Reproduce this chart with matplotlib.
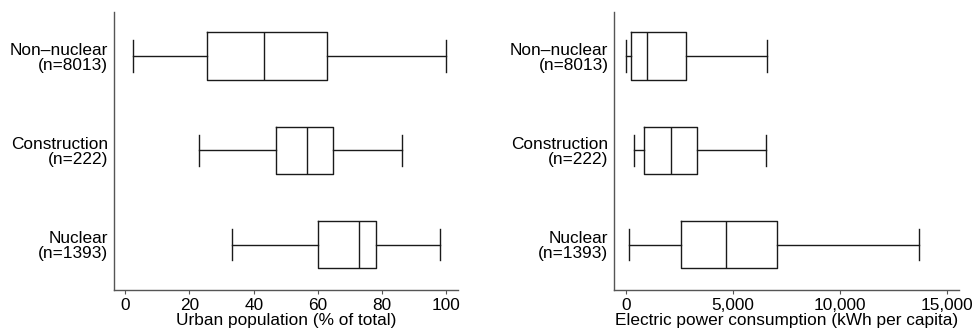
import matplotlib
matplotlib.use("Agg")
from matplotlib import pyplot as plt
from matplotlib.ticker import FuncFormatter

plt.rcParams['font.family'] = ['Liberation Sans', 'DejaVu Sans']

groups = ['Non\u2013nuclear\n(n=8013)', 'Construction\n(n=222)', 'Nuclear\n(n=1393)']

# urban population (% of total): whisker low, q1, median, q3, whisker high
urban_lo = [2.3, 23.0, 33.2]
urban_q1 = [25.5, 47.0, 60.1]
urban_med = [43.1, 56.5, 72.7]
urban_q3 = [62.8, 64.8, 78.2]
urban_hi = [100.0, 86.3, 98.0]

# electric power consumption (kWh per capita)
power_lo = [15, 358, 125]
power_q1 = [234, 857, 2587]
power_med = [982, 2090, 4691]
power_q3 = [2792, 3320, 7048]
power_hi = [6580, 6548, 13718]

FS = 12.4


def make_stats(lo, q1, med, q3, hi):
    stats = []
    for i in range(len(lo)):
        stats.append(dict(whislo=lo[i], q1=q1[i], med=med[i], q3=q3[i],
                          whishi=hi[i], fliers=[]))
    return stats


def draw_box(ax, stats, xlim, ticks, xlabel, fmt=None):
    line = dict(color='#1a1a1a', linewidth=1.0)
    ax.bxp(stats, positions=[1, 2, 3], vert=False, widths=0.5, capwidths=0.33,
           showfliers=False, boxprops=line, whiskerprops=line, capprops=line,
           medianprops=line)
    ax.set_ylim(3.48, 0.53)
    ax.set_xlim(*xlim)
    ax.set_yticks([1, 2, 3])
    ax.set_yticklabels(groups, fontsize=FS, ha='right', linespacing=1.0)
    ax.tick_params(axis='y', length=0, pad=4)
    ax.tick_params(axis='x', length=3, width=0.8, color='#555555', pad=3,
                   labelsize=FS)
    ax.set_xticks(ticks)
    if fmt is not None:
        ax.xaxis.set_major_formatter(fmt)
    ax.set_xlabel(xlabel, fontsize=FS, labelpad=0)
    for s in ['top', 'right']:
        ax.spines[s].set_visible(False)
    for s in ['left', 'bottom']:
        ax.spines[s].set_color('#555555')
        ax.spines[s].set_linewidth(1.0)


fig = plt.figure(figsize=(9.74, 3.29), dpi=100)
ax1 = fig.add_axes([0.1167, 0.1185, 0.3538, 0.846])
ax2 = fig.add_axes([0.6304, 0.1185, 0.3539, 0.846])

draw_box(ax1, make_stats(urban_lo, urban_q1, urban_med, urban_q3, urban_hi),
         (-3.6, 103.7), [0, 20, 40, 60, 80, 100], 'Urban population (% of total)')
draw_box(ax2, make_stats(power_lo, power_q1, power_med, power_q3, power_hi),
         (-561, 15561), [0, 5000, 10000, 15000],
         'Electric power consumption (kWh per capita)',
         FuncFormatter(lambda v, p: f'{v:,.0f}'))

plt.savefig('out.png', dpi=100)
